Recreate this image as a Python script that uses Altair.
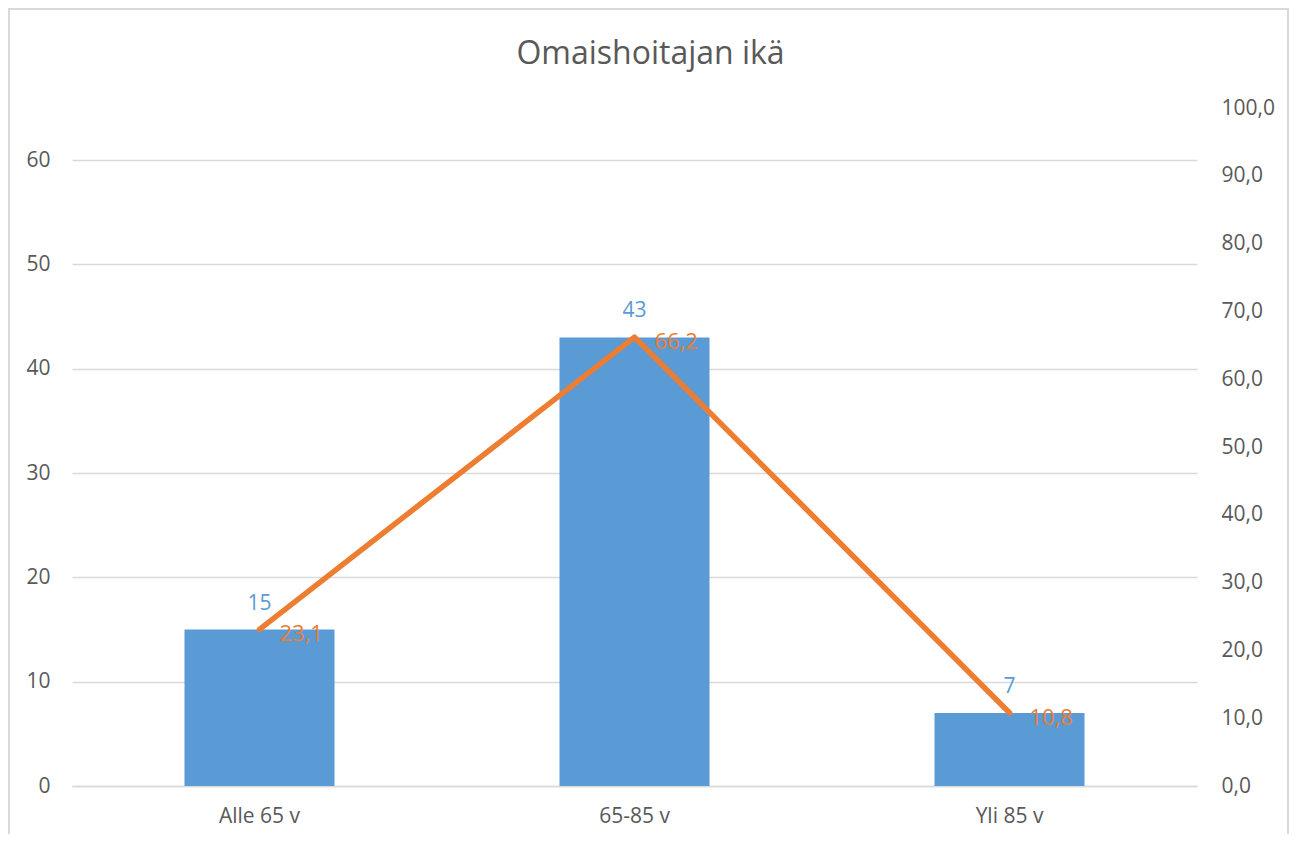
import altair as alt
import pandas as pd

categories = ["Alle 65 v", "65-85 v", "Yli 85 v"]
counts = [15, 43, 7]
percents = [23.1, 66.2, 10.8]

df = pd.DataFrame({"cat": categories, "count": counts, "pct": percents})

FONT = "Open Sans"
GREY = "#595959"
BLUE = "#5B9BD5"
ORANGE = "#ED7D31"

W, H = 1125, 678

xscale = alt.Scale(domain=categories, paddingInner=0.6, paddingOuter=0.3)
x = alt.X("cat:N", scale=xscale, sort=categories,
          axis=alt.Axis(title=None, labelAngle=0, ticks=False, labelPadding=19,
                        domainColor="#d9d9d9", domainWidth=1.5, labelFontSize=21,
                        labelColor=GREY, labelFont=FONT))

yleft = alt.Y("count:Q", scale=alt.Scale(domain=[0, 65], nice=False),
              axis=alt.Axis(title=None, values=list(range(0, 61, 10)), grid=True,
                            gridColor="#d9d9d9", gridWidth=1.5, ticks=False, domain=False,
                            labelPadding=22, labelFontSize=21, labelColor=GREY, labelFont=FONT))

bars = alt.Chart(df).mark_bar(color=BLUE).encode(x=x, y=yleft)
bar_labels = alt.Chart(df).mark_text(color=BLUE, font=FONT, fontSize=21, dy=-26,
                                     baseline="middle", align="center").encode(
    x=x, y=yleft, text="count:Q")

left = alt.layer(bars, bar_labels)

yright = alt.Y("pct:Q", scale=alt.Scale(domain=[0, 100], nice=False),
               axis=alt.Axis(title=None, orient="right", values=list(range(0, 101, 10)),
                             grid=False, ticks=False, domain=False, labelPadding=24,
                             labelFontSize=21, labelColor=GREY, labelFont=FONT,
                             labelExpr="replace(format(datum.value, '.1f'), '.', ',')"))

line = alt.Chart(df).mark_line(color=ORANGE, strokeWidth=5.5, strokeCap="round",
                               strokeJoin="round").encode(x=x, y=yright)
line_labels = alt.Chart(df).transform_calculate(
    lbl="replace(format(datum.pct, '.1f'), '.', ',')"
).mark_text(color=ORANGE, font=FONT, fontSize=22, dx=20, dy=5,
            align="left", baseline="middle").encode(x=x, y=yright, text="lbl:N")

right = alt.layer(line, line_labels)

border = alt.Chart(pd.DataFrame({"a": [0]})).mark_rect(
    fill=None, stroke="#d9d9d9", strokeWidth=2
).encode(x=alt.value(-63), x2=alt.value(1216), y=alt.value(-99), y2=alt.value(900))

chart = alt.layer(border, left, right).resolve_scale(y="independent").properties(
    width=W, height=H,
    title=alt.TitleParams("Omaishoitajan ikä", font=FONT, fontSize=32, fontWeight="normal",
                          color=GREY, anchor="middle", offset=0, baseline="alphabetic",
                          dy=88, dx=16),
    padding={"left": 64, "top": 100, "right": 92, "bottom": 48},
    autosize=alt.AutoSizeParams(type="none"),
).configure(background="white").configure_view(strokeWidth=0, stroke="transparent")

chart.save("out.html", embed_options={"renderer": "svg", "actions": False})
